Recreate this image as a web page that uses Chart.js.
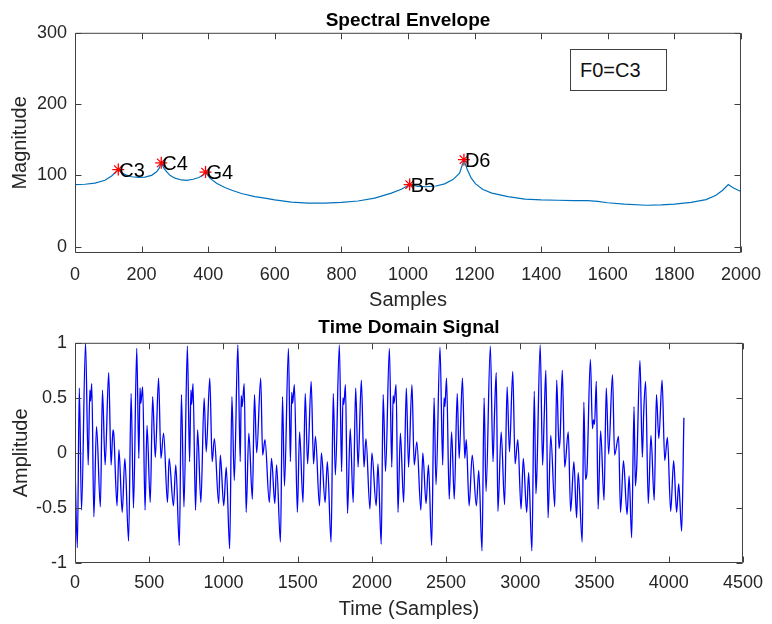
<!DOCTYPE html>
<html>

<head>
	<meta charset="UTF-8">
	<title>Spectral Envelope</title>
	<script src="https://cdn.jsdelivr.net/npm/chart.js"></script>
	<style>
		body {
			margin: 0;
			width: 772px;
			height: 624px;
			position: relative;
			overflow: hidden;
			background: #fff;
			font-family: "Liberation Sans", Arial, sans-serif;
		}

		.plot {
			position: absolute;
			left: 0;
		}

		#envChart { top: 0; }
		#sigChart { top: 312px; }

		/* text box like the MATLAB annotation */
		#f0box {
			position: absolute;
			left: 570px;
			top: 49px;
			width: 97px;
			height: 42px;
			box-sizing: border-box;
			border: 1px solid #404040;
			background: #fff;
			color: #111;
			font-size: 20px;
			line-height: 40px;
			padding-left: 9px;
		}
	</style>
</head>

<body>
	<canvas id="envChart" class="plot" width="772" height="312"></canvas>
	<canvas id="sigChart" class="plot" width="772" height="312"></canvas>
	<div id="f0box">F0=C3</div>

	<script>
		const FONT = '"Liberation Sans", Arial, sans-serif';

		// ---- spectral envelope (samples, magnitude) ----
		const envelope = [
			[0, 87], [30, 87.5], [60, 89], [90, 93], [110, 99], [130, 108],
			[150, 101], [170, 98], [190, 97], [210, 97.5], [230, 100], [245, 105], [253, 110], [259, 117.5],
			[268, 109], [285, 100], [300, 96], [320, 93.5], [335, 93], [355, 94.5], [372, 97], [385, 100.5], [392, 104.5],
			[405, 96], [425, 89], [450, 83], [471, 79], [500, 74.5], [540, 70], [570, 68], [600, 65.5],
			[650, 62.5], [700, 61], [750, 61], [800, 62], [850, 64], [900, 68], [950, 75], [980, 80.5], [1005, 87],
			[1030, 84.5], [1055, 84], [1084, 85], [1110, 88], [1135, 94], [1155, 103], [1168, 122],
			[1178, 108], [1190, 96], [1203, 88], [1225, 80], [1252, 75], [1300, 70], [1351, 66.5],
			[1400, 65.5], [1450, 65], [1500, 64.5], [1539, 64.5], [1570, 63.5], [1599, 61.5], [1650, 59.5],
			[1716, 58], [1760, 58.5], [1800, 59.5], [1850, 62], [1895, 66], [1925, 72], [1945, 79], [1962, 87],
			[1975, 83], [1990, 79.5], [2000, 77.5]
		];

		// detected peaks
		const peakX = [130, 259, 392, 1005, 1168];
		const peakY = [108, 117.5, 104.5, 87, 122];
		const peakNotes = ['C3', 'C4', 'G4', 'B5', 'D6'];

		const envXTicks = [0, 200, 400, 600, 800, 1000, 1200, 1400, 1600, 1800, 2000];
		const envYTicks = [0, 100, 200, 300];

		// ---- time domain signal (sample, amplitude), read peak by peak ----
		const signal = [
			[0, -0.11], [16, -0.86], [29, 0.59], [44, -0.52], [71, 1.0], [89, -0.11], [100, 0.57], [105, 0.47], [113, 0.63],
			[127, -0.58], [145, 0.24], [171, -0.49], [185, 0.57], [203, -0.11], [227, 0.73], [243, -0.11], [256, 0.21],
			[262, 0.16], [283, -0.48], [296, 0.03], [318, -0.54], [336, -0.05], [361, -0.80], [378, 0.54], [394, -0.50],
			[416, 0.95], [430, -0.05], [438, 0.59], [443, 0.45], [456, 0.60], [472, -0.52], [485, 0.25], [507, -0.45],
			[523, 0.51], [541, -0.04], [563, 0.68], [579, -0.05], [597, 0.18], [623, -0.45], [634, -0.05], [663, -0.48],
			[679, -0.11], [703, -0.84], [717, 0.53], [734, -0.49],
			[757, 0.97], [772, -0.08], [781, 0.57], [786, 0.44], [795, 0.63], [812, -0.52], [826, 0.21], [848, -0.45],
			[870, 0.50], [884, 0.01], [908, 0.68], [924, -0.08], [939, 0.13], [968, -0.46], [979, -0.02], [1002, -0.48],
			[1019, -0.13], [1042, -0.87], [1057, 0.51], [1073, -0.25],
			[1097, 0.98], [1113, -0.08], [1120, 0.52], [1126, 0.42], [1140, 0.63], [1153, -0.54], [1171, 0.18], [1195, -0.42],
			[1209, 0.53], [1224, 0.0], [1251, 0.68], [1264, -0.02], [1280, 0.12], [1309, -0.45], [1324, -0.05], [1346, -0.46],
			[1358, -0.11], [1384, -0.81], [1398, 0.51], [1411, -0.30],
			[1438, 0.95], [1451, -0.08], [1460, 0.55], [1466, 0.45], [1478, 0.62], [1498, -0.54], [1513, 0.19], [1536, -0.45],
			[1551, 0.54], [1567, -0.10], [1591, 0.65], [1607, -0.10], [1620, 0.15], [1647, -0.48], [1660, 0.0], [1685, -0.45],
			[1700, -0.08], [1725, -0.81], [1740, 0.54], [1754, -0.20],
			[1781, 0.98], [1796, -0.17], [1805, 0.50], [1811, 0.44], [1822, 0.62], [1836, -0.55], [1854, 0.22], [1874, -0.45],
			[1891, 0.59], [1907, -0.13], [1929, 0.66], [1947, -0.13], [1960, 0.13], [1987, -0.51], [2000, 0.0], [2029, -0.48],
			[2041, -0.10], [2063, -0.83], [2076, 0.53], [2092, -0.17],
			[2118, 0.95], [2134, -0.13], [2143, 0.52], [2149, 0.45], [2163, 0.62], [2176, -0.54], [2192, 0.18], [2214, -0.45],
			[2232, 0.59], [2247, -0.13], [2270, 0.62], [2285, -0.11], [2303, 0.10], [2330, -0.52], [2343, 0.0], [2365, -0.46],
			[2381, -0.11], [2403, -0.84], [2419, 0.50], [2432, -0.29],
			[2459, 0.96], [2477, -0.11], [2486, 0.50], [2492, 0.42], [2503, 0.68], [2521, -0.42], [2537, 0.19], [2555, -0.42],
			[2575, 0.54], [2588, -0.05], [2610, 0.68], [2626, -0.05], [2636, 0.12], [2655, -0.48], [2676, -0.02], [2704, -0.48],
			[2720, -0.16], [2742, -0.89], [2756, 0.50], [2769, -0.35],
			[2798, 0.97], [2816, -0.08], [2827, 0.39], [2838, 0.73], [2849, -0.53], [2871, 0.19], [2894, -0.47], [2911, 0.60],
			[2927, 0.01], [2949, 0.74], [2965, -0.10], [2983, 0.12], [3005, -0.51], [3020, -0.05], [3043, -0.54], [3056, -0.18],
			[3078, -0.89], [3094, 0.56], [3105, -0.37], [3112, -0.16],
			[3134, 0.98], [3150, -0.11], [3161, 0.33], [3172, 0.75], [3187, -0.59], [3205, 0.16], [3232, -0.49], [3245, 0.66],
			[3261, 0.04], [3268, 0.13], [3283, 0.75], [3299, -0.13], [3323, 0.19], [3339, -0.53], [3361, -0.08], [3379, -0.59],
			[3390, -0.18], [3417, -0.81], [3428, 0.46], [3439, -0.24], [3448, -0.19],
			[3472, 0.85], [3486, 0.22], [3493, 0.30], [3500, 0.26], [3512, 0.65], [3524, -0.51], [3541, 0.20], [3564, -0.43],
			[3579, 0.59], [3595, -0.01], [3621, 0.71], [3635, -0.02], [3662, 0.15], [3675, -0.54], [3695, -0.07], [3719, -0.56],
			[3733, -0.21], [3750, -0.77], [3766, 0.42], [3775, -0.30], [3784, -0.13],
			[3806, 0.84], [3822, -0.04], [3831, 0.36], [3844, 0.65], [3862, -0.46], [3880, 0.16], [3902, -0.43], [3917, 0.53],
			[3933, 0.13], [3955, 0.66], [3973, -0.07], [3991, 0.14], [4013, -0.53], [4033, -0.07], [4053, -0.54], [4067, -0.28],
			[4087, -0.71], [4102, 0.32]
		];

		const sigXTicks = [0, 500, 1000, 1500, 2000, 2500, 3000, 3500, 4000, 4500];
		const sigYTicks = [-1, -0.5, 0, 0.5, 1];

		// box around the axes with inward tick marks on all four sides (MATLAB look)
		const matlabBox = {
			id: 'matlabBox',
			afterDraw(chart) {
				const {ctx, chartArea: a} = chart;
				const xs = chart.scales.x, ys = chart.scales.y;
				const L = a.left + 0.5, R = a.right - 0.5, T = a.top + 0.5, B = a.bottom - 0.5;
				const len = 6;
				ctx.save();
				ctx.strokeStyle = '#404040';
				ctx.lineWidth = 1;
				ctx.beginPath();
				ctx.rect(L, T, R - L, B - T);
				xs.ticks.forEach(t => {
					const px = Math.round(xs.getPixelForValue(t.value)) + 0.5;
					ctx.moveTo(px, B); ctx.lineTo(px, B - len);
					ctx.moveTo(px, T); ctx.lineTo(px, T + len);
				});
				ys.ticks.forEach(t => {
					const py = Math.round(ys.getPixelForValue(t.value)) + 0.5;
					ctx.moveTo(L, py); ctx.lineTo(L + len, py);
					ctx.moveTo(R, py); ctx.lineTo(R - len, py);
				});
				ctx.stroke();
				ctx.restore();
			}
		};

		// note names next to the peak markers
		const noteLabels = {
			id: 'noteLabels',
			afterDatasetsDraw(chart) {
				const {ctx} = chart;
				const xs = chart.scales.x, ys = chart.scales.y;
				ctx.save();
				ctx.font = '20px ' + FONT;
				ctx.fillStyle = '#000';
				ctx.textAlign = 'left';
				ctx.textBaseline = 'middle';
				peakNotes.forEach((n, i) => {
					ctx.fillText(n, xs.getPixelForValue(peakX[i]) + 1, ys.getPixelForValue(peakY[i]) + 1.5);
				});
				ctx.restore();
			}
		};

		function axisOpts(min, max, tickList, label, o) {
			return {
				type: 'linear',
				min: min,
				max: max,
				grid: { display: false, drawTicks: false },
				border: { display: false },
				ticks: {
					color: '#262626',
					font: { family: FONT, size: 18 },
					padding: o.tickPad,
					autoSkip: false,
					maxRotation: 0,
					callback: v => String(v)
				},
				title: {
					display: true,
					text: label,
					color: '#262626',
					font: { family: FONT, size: 20 },
					padding: o.titlePad
				},
				afterBuildTicks: s => { s.ticks = tickList.map(v => ({ value: v })); },
				afterFit: s => { if (o.width) s.width = o.width; if (o.height) s.height = o.height; }
			};
		}

		new Chart(document.getElementById('envChart'), {
			type: 'line',
			data: {
				datasets: [{
					data: peakX.map((v, i) => ({ x: v, y: peakY[i] })),
					showLine: false,
					pointStyle: 'star',
					pointRadius: 6,
					pointBorderColor: '#ff0000',
					pointBorderWidth: 1.3,
					order: 1
				}, {
					data: envelope.map(p => ({ x: p[0], y: p[1] })),
					borderColor: '#0072BD',
					borderWidth: 1.2,
					pointRadius: 0,
					tension: 0,
					order: 2
				}]
			},
			options: {
				responsive: false,
				animation: false,
				layout: { padding: { left: 0, right: 23, top: 0, bottom: 0 } },
				plugins: {
					legend: { display: false },
					tooltip: { enabled: false },
					title: {
						display: true,
						fullSize: false,
						text: 'Spectral Envelope',
						color: '#000',
						font: { family: FONT, size: 19, weight: 'bold' },
						padding: { top: 9, bottom: 1 }
					}
				},
				scales: {
					x: axisOpts(0, 2000, envXTicks, 'Samples', { tickPad: 11, titlePad: { top: 0, bottom: 0 }, height: 59 }),
					y: axisOpts(-9, 300, envYTicks, 'Magnitude', { tickPad: 8, titlePad: { top: 8, bottom: 0 }, width: 75 })
				}
			},
			plugins: [noteLabels, matlabBox]
		});

		new Chart(document.getElementById('sigChart'), {
			type: 'line',
			data: {
				datasets: [{
					data: signal.map(p => ({ x: p[0], y: p[1] })),
					borderColor: '#0000ff',
					borderWidth: 1.3,
					pointRadius: 0,
					cubicInterpolationMode: 'monotone'
				}]
			},
			options: {
				responsive: false,
				animation: false,
				layout: { padding: { left: 0, right: 23, top: 0, bottom: 0 } },
				plugins: {
					legend: { display: false },
					tooltip: { enabled: false },
					title: {
						display: true,
						fullSize: false,
						text: 'Time Domain Signal',
						color: '#000',
						font: { family: FONT, size: 19, weight: 'bold' },
						padding: { top: 4, bottom: 4 }
					}
				},
				scales: {
					x: axisOpts(0, 4500, sigXTicks, 'Time (Samples)', { tickPad: 9, titlePad: { top: 0, bottom: 3 }, height: 61 }),
					y: axisOpts(-1, 1, sigYTicks, 'Amplitude', { tickPad: 8, titlePad: { top: 9, bottom: 0 }, width: 75 })
				}
			},
			plugins: [matlabBox]
		});
	</script>
</body>

</html>
